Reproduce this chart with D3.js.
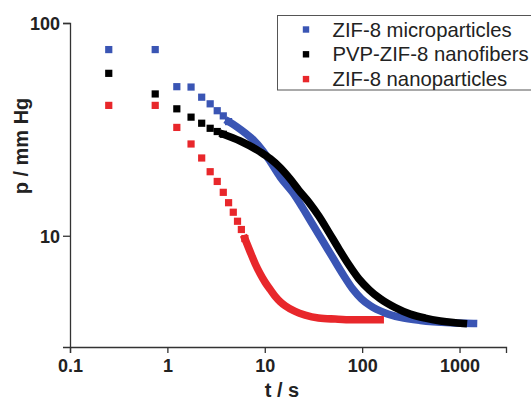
<!DOCTYPE html>
<html>
<head>
<meta charset="utf-8">
<title>pressure decay</title>
<script src="https://d3js.org/d3.v7.min.js"></script>
<style>
body{
	margin:0;
	background:#fff;
}
svg text{
	font-family: 'Liberation Sans', Arial, sans-serif;
	fill:#222;
}
.tick-label{
	font-weight:bold;
	font-size:18px;
}
.axis-title{
	font-weight:bold;
	font-size:20px;
}
.legend text{
	font-size:20.3px;
}
</style>
</head>
<body>
<svg id="chart" width="531" height="402"></svg>

<script>
// ---- data (t in s, p in mm Hg) ----
var seriesNames = ["ZIF-8 microparticles", "PVP-ZIF-8 nanofibers", "ZIF-8 nanoparticles"];
var seriesColors = ["#3a55b4", "#000000", "#e8272b"];

var blueT = [0.25, 0.75, 1.25, 1.75, 2.25, 2.75, 3.25, 3.75, 4.25, 5.17, 6.29, 7.65, 9.4, 11.4, 14.4, 19.5, 24.8, 31.4, 39.8, 50.4, 63.9, 81, 98, 121, 173, 246, 396, 804, 1390];
var blueP = [75, 75, 50.2, 50, 44.8, 41.7, 38.7, 36.6, 34.4, 32.5, 30.4, 28.2, 25.3, 22.3, 18.9, 15.9, 13.4, 11.2, 9.37, 7.84, 6.56, 5.58, 5.06, 4.69, 4.33, 4.14, 4.00, 3.90, 3.87];

var blackT = [0.25, 0.75, 1.25, 1.75, 2.25, 2.75, 3.25, 3.75, 5.59, 8.97, 11.4, 14.4, 18.2, 22.3, 28.3, 35.8, 45.4, 57.5, 72.9, 92.3, 118, 153, 219, 312, 445, 635, 864, 1094];
var blackP = [58, 46.4, 39.5, 36.1, 33.8, 32.0, 30.9, 30.0, 27.9, 24.8, 23.0, 20.9, 18.5, 16.4, 14.4, 12.4, 10.4, 8.69, 7.31, 6.28, 5.58, 5.06, 4.59, 4.28, 4.10, 3.98, 3.91, 3.87];

var redT = [0.25, 0.75, 1.25, 1.75, 2.25, 2.75, 3.25, 3.75, 4.25, 4.75, 5.25, 5.75, 6.25, 7.08, 7.97, 8.97, 10.1, 11.4, 12.8, 14.4, 16.2, 20.5, 26.0, 35.6, 52.9, 78.5, 153];
var redP = [41, 41, 32.3, 27.0, 23.2, 20.0, 18.0, 16.0, 14.3, 12.9, 11.7, 10.7, 9.7, 8.41, 7.39, 6.63, 6.04, 5.58, 5.19, 4.90, 4.69, 4.41, 4.24, 4.11, 4.06, 4.03, 4.03];

// where the markers start to overlap into a solid band
var denseFrom = [4.25, 3.75, 6.25];

var xMajor = [0.1, 1, 10, 100, 1000];
var xMajorLabels = ["0.1", "1", "10", "100", "1000"];
var xMinor = [0.2, 0.3, 0.4, 0.5, 0.6, 0.7, 0.8, 0.9, 2, 3, 4, 5, 6, 7, 8, 9, 20, 30, 40, 50, 60, 70, 80, 90, 200, 300, 400, 500, 600, 700, 800, 900, 2000, 3000];
var yMajor = [10, 100];
var yMajorLabels = ["10", "100"];
var yMinor = [3, 4, 5, 6, 7, 8, 9, 20, 30, 40, 50, 60, 70, 80, 90];

var svg = d3.select("#chart");

var x = d3.scaleLog()
	.domain([0.1, 3000])
	.range([70, 506]);

var y = d3.scaleLog()
	.domain([3, 100])
	.range([347, 23]);

/******** AXES *********/
var axisColor = "#333";

var xAxis = d3.axisBottom(x)
	.tickValues(xMajor)
	.tickSize(6)
	.tickPadding(6)
	.tickFormat(function(d, i){ return xMajorLabels[i]; });

var xAxisMinor = d3.axisBottom(x)
	.tickValues(xMinor)
	.tickSize(3.5)
	.tickFormat("");

var yAxis = d3.axisLeft(y)
	.tickValues(yMajor)
	.tickSize(7)
	.tickPadding(3)
	.tickFormat(function(d, i){ return yMajorLabels[i]; });

var yAxisMinor = d3.axisLeft(y)
	.tickValues(yMinor)
	.tickSize(3.5)
	.tickFormat("");

var gx = svg.append("g").attr("transform", "translate(0,347)");
gx.call(xAxisMinor);
gx.call(xAxis);

var gy = svg.append("g").attr("transform", "translate(70,0)");
gy.call(yAxisMinor);
gy.call(yAxis);

svg.selectAll(".domain, .tick line")
	.attr("stroke", axisColor)
	.attr("stroke-width", 1.3);

svg.selectAll(".tick text")
	.attr("class", "tick-label")
	.attr("fill", "#222")
	.style("font-family", "'Liberation Sans', Arial, sans-serif");

gy.selectAll(".tick text").attr("dy", "0.36em");

// axis titles
svg.append("text")
	.attr("class", "axis-title")
	.attr("x", 282)
	.attr("y", 397)
	.attr("text-anchor", "middle")
	.text("t / s");

svg.append("text")
	.attr("class", "axis-title")
	.attr("transform", "translate(28,146) rotate(-90)")
	.attr("text-anchor", "middle")
	.text("p / mm Hg");

/******** SERIES *********/
var series = [
	{t: blueT, p: blueP},
	{t: blackT, p: blackP},
	{t: redT, p: redP}
];

var line = d3.line()
	.x(function(d){ return x(d[0]); })
	.y(function(d){ return y(d[1]); })
	.curve(d3.curveMonotoneX);

var markerSize = 7.2;

// draw blue, then red, then black on top
[0, 2, 1].forEach(function(k){
	var s = series[k];
	var pts = s.t.map(function(t, i){ return [t, s.p[i]]; });
	var dense = pts.filter(function(d){ return d[0] >= denseFrom[k]; });
	// separate squares only where they do not merge yet
	var sparse = pts.filter(function(d){ return d[0] <= denseFrom[k]; });

	var g = svg.append("g");

	// overlapping squares read as a thick band
	g.append("path")
		.datum(dense)
		.attr("d", line)
		.attr("fill", "none")
		.attr("stroke", seriesColors[k])
		.attr("stroke-width", 7.6)
		.attr("stroke-linecap", "square")
		.attr("stroke-linejoin", "round");

	g.selectAll("rect")
		.data(sparse)
		.enter()
		.append("rect")
		.attr("x", function(d){ return x(d[0]) - markerSize/2; })
		.attr("y", function(d){ return y(d[1]) - markerSize/2; })
		.attr("width", markerSize)
		.attr("height", markerSize)
		.attr("fill", seriesColors[k]);
});

/******** LEGEND *********/
var legend = svg.append("g").attr("class", "legend");

legend.append("rect")
	.attr("x", 277.5)
	.attr("y", 15.5)
	.attr("width", 260)
	.attr("height", 74.5)
	.attr("fill", "#fff")
	.attr("stroke", "#555")
	.attr("stroke-width", 1);

var rowY = [29.5, 54.3, 79.1];

legend.selectAll(".lmark")
	.data(seriesNames)
	.enter()
	.append("rect")
	.attr("class", "lmark")
	.attr("x", 306 - 3.2)
	.attr("y", function(d, i){ return rowY[i] - 3.2; })
	.attr("width", 6.4)
	.attr("height", 6.4)
	.attr("fill", function(d, i){ return seriesColors[i]; });

legend.selectAll(".ltext")
	.data(seriesNames)
	.enter()
	.append("text")
	.attr("class", "ltext")
	.attr("x", 332.5)
	.attr("y", function(d, i){ return rowY[i]; })
	.attr("dy", "0.35em")
	.text(function(d){ return d; });
</script>
</body>
</html>
